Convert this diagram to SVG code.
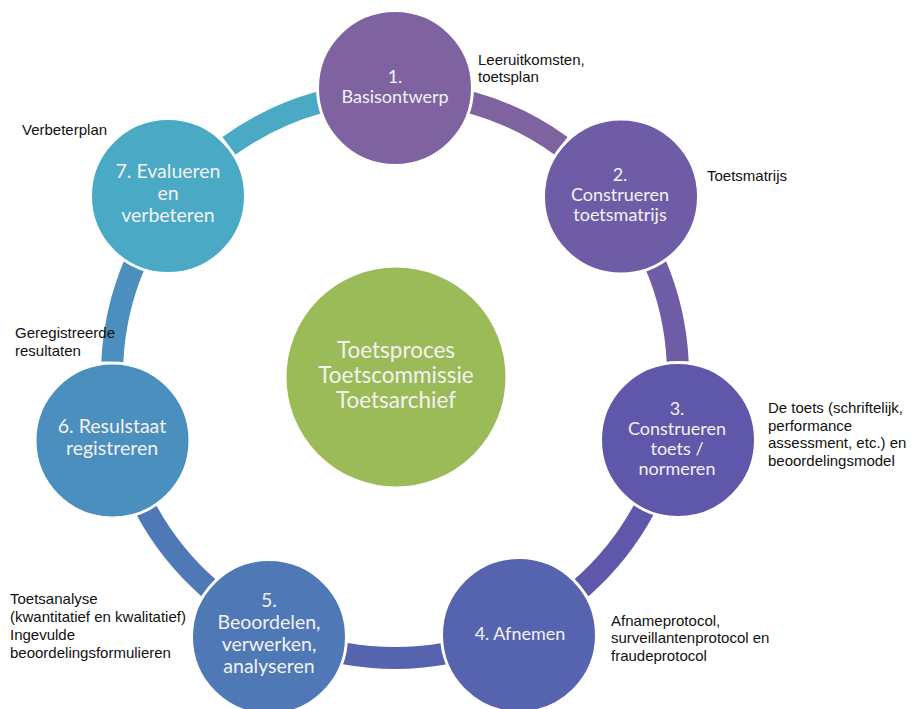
<svg xmlns="http://www.w3.org/2000/svg" width="912" height="709" viewBox="0 0 912 709">
<style>
.arc{fill:none;stroke-width:22;stroke-linecap:butt}
.node{stroke:#ffffff;stroke-width:3}
.ct{font-family:Lato,"Open Sans",sans-serif;fill:#F2F2F2;text-anchor:middle}
.s1{font-size:18px}
.s2{font-size:19.5px}
.lbl{font-family:"Liberation Sans",Arial,sans-serif;font-size:15px;fill:#111111}
</style>
<rect width="912" height="709" fill="#ffffff"/>
<g id="connectors">
<path class="arc" stroke="#7F63A1" d="M470.6 102.3 A283 283 0 0 1 561.1 145.9"/>
<path class="arc" stroke="#6E5DA6" d="M655.4 264.1 A283 283 0 0 1 677.7 362.0"/>
<path class="arc" stroke="#5F57A9" d="M644.0 509.4 A283 283 0 0 1 581.4 587.9"/>
<path class="arc" stroke="#5663AF" d="M445.2 653.5 A283 283 0 0 1 344.8 653.5"/>
<path class="arc" stroke="#4F78B7" d="M208.6 587.9 A283 283 0 0 1 146.0 509.4"/>
<path class="arc" stroke="#4B8FBF" d="M112.3 362.0 A283 283 0 0 1 134.6 264.1"/>
<path class="arc" stroke="#4AA9C5" d="M228.9 145.9 A283 283 0 0 1 319.4 102.3"/>
</g>
<g id="center">
<circle class="node" cx="396" cy="377" r="111" fill="#9BBB59"/>
<text class="ct" font-size="22.5"><tspan x="396" y="358">Toetsproces</tspan><tspan x="396" y="383">Toetscommissie</tspan><tspan x="396" y="408">Toetsarchief</tspan></text>
</g>
<g id="n1">
<circle class="node" cx="395" cy="88" r="77.5" fill="#7F63A1"/>
<text class="ct s1"><tspan x="395" y="83">1.</tspan><tspan x="395" y="103">Basisontwerp</tspan></text>
<text class="lbl"><tspan x="478" y="65">Leeruitkomsten,</tspan><tspan x="478" y="82">toetsplan</tspan></text>
</g>
<g id="n2">
<circle class="node" cx="621" cy="196.5" r="77.5" fill="#6E5DA6"/>
<text class="ct s1"><tspan x="620" y="181">2.</tspan><tspan x="620" y="201">Construeren</tspan><tspan x="620" y="221">toetsmatrijs</tspan></text>
<text class="lbl" x="707" y="181">Toetsmatrijs</text>
</g>
<g id="n3">
<circle class="node" cx="678" cy="440" r="77.5" fill="#5F57A9"/>
<text class="ct s1"><tspan x="677" y="415">3.</tspan><tspan x="677" y="435">Construeren</tspan><tspan x="677" y="455">toets /</tspan><tspan x="677" y="475">normeren</tspan></text>
<text class="lbl"><tspan x="768" y="413">De toets (schriftelijk,</tspan><tspan x="768" y="431">performance</tspan><tspan x="768" y="448">assessment, etc.) en</tspan><tspan x="768" y="466">beoordelingsmodel</tspan></text>
</g>
<g id="n4">
<circle class="node" cx="519" cy="635" r="77.5" fill="#5663AF"/>
<text class="ct s1" x="520" y="640">4. Afnemen</text>
<text class="lbl"><tspan x="611" y="626">Afnameprotocol,</tspan><tspan x="611" y="643">surveillantenprotocol en</tspan><tspan x="611" y="661">fraudeprotocol</tspan></text>
</g>
<g id="n5">
<circle class="node" cx="269" cy="637" r="77.5" fill="#4F78B7"/>
<text class="ct s2"><tspan x="269" y="607">5.</tspan><tspan x="269" y="629">Beoordelen,</tspan><tspan x="269" y="651">verwerken,</tspan><tspan x="269" y="673">analyseren</tspan></text>
<text class="lbl"><tspan x="10" y="604">Toetsanalyse</tspan><tspan x="10" y="622">(kwantitatief en kwalitatief)</tspan><tspan x="10" y="640">Ingevulde</tspan><tspan x="10" y="658">beoordelingsformulieren</tspan></text>
</g>
<g id="n6">
<circle class="node" cx="112.5" cy="440.5" r="77.5" fill="#4B8FBF"/>
<text class="ct s2"><tspan x="112" y="433">6. Resulstaat</tspan><tspan x="112" y="455">registreren</tspan></text>
<text class="lbl"><tspan x="15" y="338">Geregistreerde</tspan><tspan x="15" y="356">resultaten</tspan></text>
</g>
<g id="n7">
<circle class="node" cx="168" cy="196" r="77.5" fill="#4AA9C5"/>
<text class="ct s2"><tspan x="168" y="178">7. Evalueren</tspan><tspan x="168" y="200">en</tspan><tspan x="168" y="222">verbeteren</tspan></text>
<text class="lbl" x="22" y="135">Verbeterplan</text>
</g>
</svg>
